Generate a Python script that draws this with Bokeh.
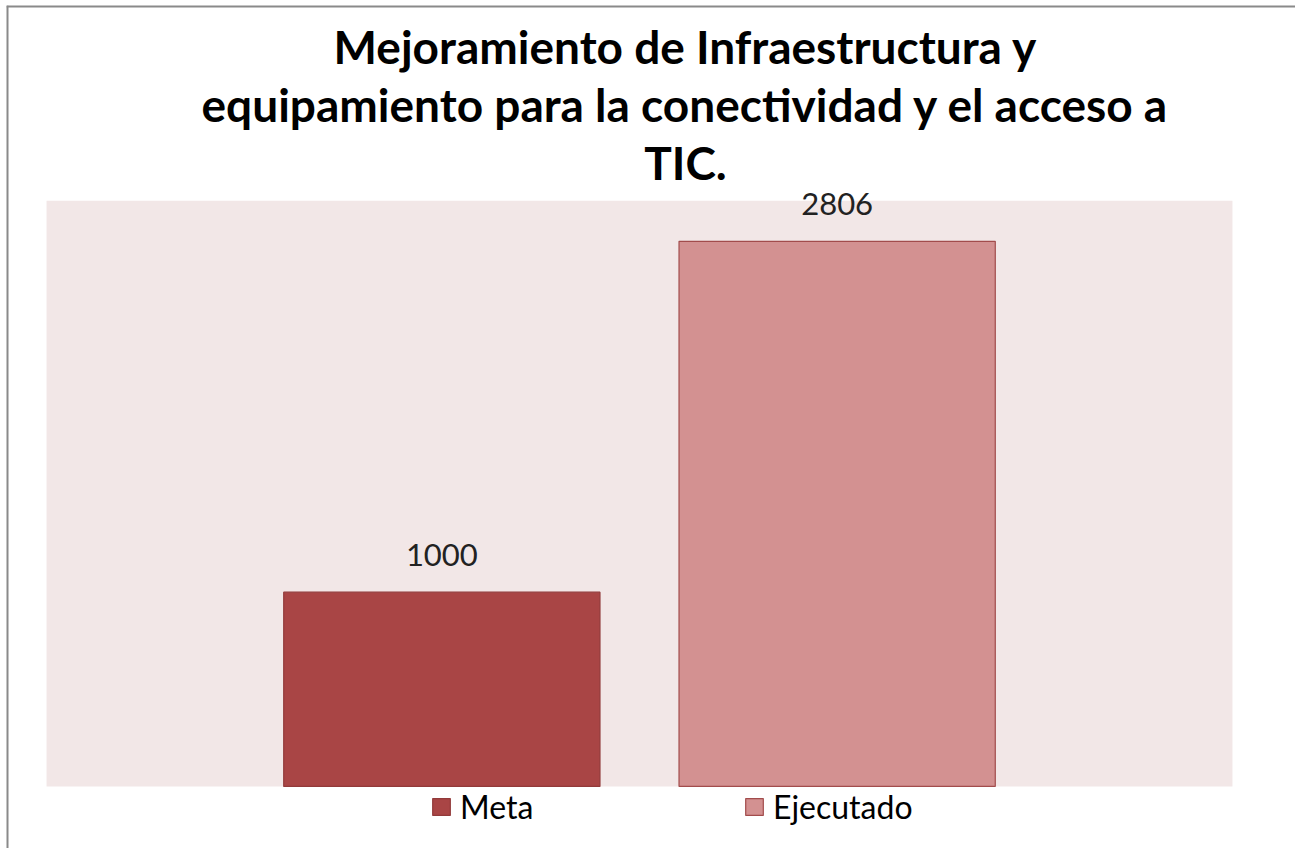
from bokeh.plotting import figure
from bokeh.models import ColumnDataSource, LabelSet, Label, Legend, LegendItem, Range1d, BoxAnnotation, Span
from bokeh.core.properties import value
from bokeh.embed import file_html
from bokeh.resources import INLINE

# ---- data ----
title_lines = [
    "Mejoramiento de Infraestructura y",
    "equipamiento para la conectividad y el acceso a",
    "TIC.",
]
series = ["Meta", "Ejecutado"]
values = [1000, 2806]
positions = [1, 2]
value_axis_max = 3015

# ---- styles ----
fills = ["#A94545", "#D39191"]
edges = ["#923A3A", "#A24C4C"]
FONT = "Lato"

X0, X1 = -0.1013, 3.1595
Y0, Y1 = -319.5, 4020

# The frame covers the whole chart area; the plotting area (pink) is drawn
# as a box in data space so that texts above it are not clipped.
p = figure(width=1295, height=848, output_backend="svg", toolbar_location=None,
           x_range=Range1d(X0, X1), y_range=Range1d(Y0, Y1),
           x_axis_location=None, y_axis_location=None,
           min_border_left=6, min_border_right=0,
           min_border_top=5, min_border_bottom=0)
p.background_fill_color = "white"
p.border_fill_color = "white"
p.outline_line_color = None
p.grid.visible = False

# chart border (left and top edges are the only visible ones)
p.add_layout(Span(location=X0, dimension="height", line_color="#8A8A8A", line_width=4))
p.add_layout(Span(location=Y1, dimension="width", line_color="#8A8A8A", line_width=4))

p.add_layout(BoxAnnotation(left=0, right=3, bottom=0, top=value_axis_max,
                           fill_color="#F2E7E7", fill_alpha=1, line_alpha=0,
                           level="underlay"))

renderers = []
for i in range(len(series)):
    src = ColumnDataSource(dict(x=[positions[i]], top=[values[i]]))
    r = p.vbar(x="x", top="top", width=0.8, bottom=0, source=src,
               fill_color=fills[i], line_color=edges[i], line_width=1.2)
    renderers.append(r)

lab_src = ColumnDataSource(dict(x=positions, y=values, t=[str(v) for v in values]))
p.add_layout(LabelSet(x="x", y="y", text="t", source=lab_src, y_offset=37,
                      text_align="center", text_baseline="middle",
                      text_font=value(FONT), text_font_size="31px",
                      text_color="#222222"))

# title (three centered lines)
title_base_y = [802, 744, 686]
for line, yy in zip(title_lines, title_base_y):
    p.add_layout(Label(x=679, y=yy, x_units="screen", y_units="screen",
                       text=line, text_align="center", text_baseline="alphabetic",
                       text_font=FONT, text_font_style="bold",
                       text_font_size="46px", text_color="#000000"))

legend_x = [424, 737]
for r, name, lx in zip(renderers, series, legend_x):
    lg = Legend(items=[LegendItem(label=name, renderers=[r])], location=(lx, 22),
                orientation="horizontal", padding=0, margin=0, spacing=0,
                glyph_width=22, glyph_height=21, label_standoff=8,
                label_text_font=FONT, label_text_font_size="32px",
                label_text_color="#000000",
                border_line_alpha=0, background_fill_alpha=0)
    p.add_layout(lg)

open("out.html", "w").write(file_html(p, INLINE))
